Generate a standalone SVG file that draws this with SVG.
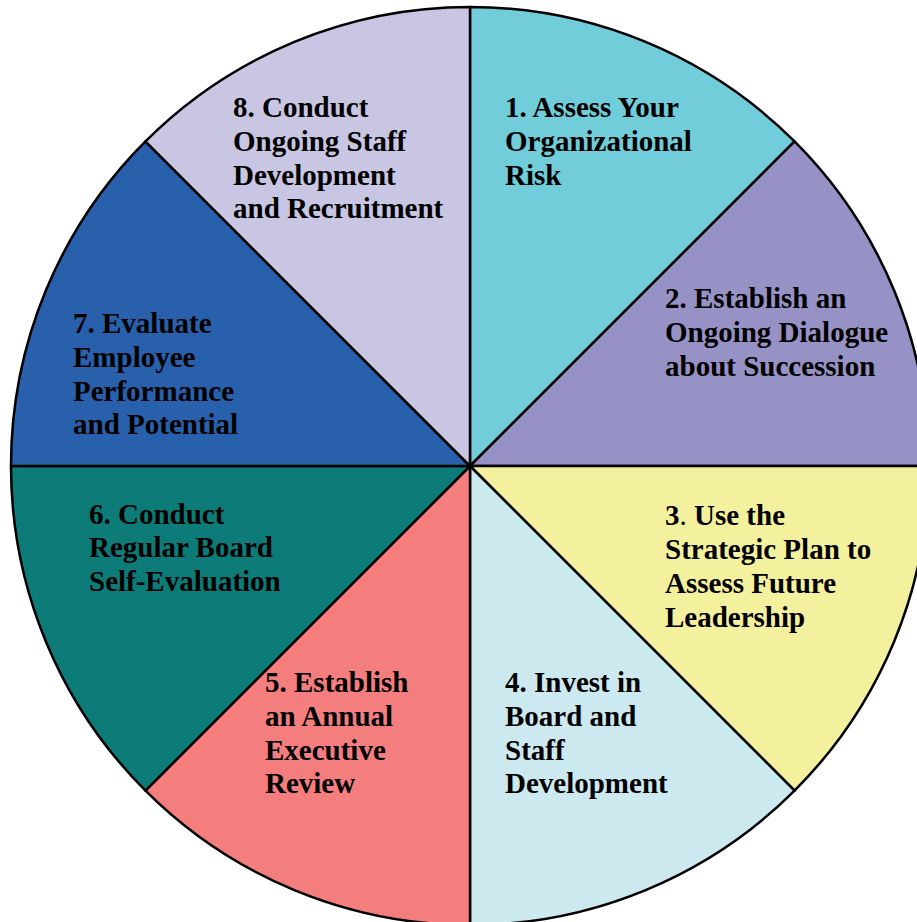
<svg xmlns="http://www.w3.org/2000/svg" width="917" height="922" viewBox="0 0 917 922">
  <style>
    .slice { stroke: #000; stroke-width: 2.5; stroke-linejoin: round; }
    .label { font-family: "Liberation Serif", "Times New Roman", serif; font-weight: bold; font-size: 29px; fill: #000; }
    .plain { font-weight: normal; }
  </style>
  <rect width="917" height="922" fill="#fff"/>
  <!-- wheel centre (470,466), radius 459; eight 45-degree sectors -->
  <g id="step1">
    <path class="slice" fill="#70CDD9" d="M470,466 L470,7 A459,459 0 0 1 794.56,141.44 Z"/>
    <text class="label" x="505">
      <tspan x="505" y="117">1. Assess Your</tspan>
      <tspan x="505" y="151">Organizational</tspan>
      <tspan x="505" y="185">Risk</tspan>
    </text>
  </g>
  <g id="step2">
    <path class="slice" fill="#9792C6" d="M470,466 L794.56,141.44 A459,459 0 0 1 929,466 Z"/>
    <text class="label">
      <tspan x="665" y="308">2. Establish an</tspan>
      <tspan x="665" y="342">Ongoing Dialogue</tspan>
      <tspan x="665" y="376">about Succession</tspan>
    </text>
  </g>
  <g id="step3">
    <path class="slice" fill="#F4F19E" d="M470,466 L929,466 A459,459 0 0 1 794.56,790.56 Z"/>
    <text class="label">
      <tspan x="665" y="525">3<tspan class="plain">.</tspan> Use the</tspan>
      <tspan x="665" y="559">Strategic Plan to</tspan>
      <tspan x="665" y="593">Assess Future</tspan>
      <tspan x="665" y="627">Leadership</tspan>
    </text>
  </g>
  <g id="step4">
    <path class="slice" fill="#CDE9F0" d="M470,466 L794.56,790.56 A459,459 0 0 1 470,925 Z"/>
    <text class="label">
      <tspan x="505" y="692">4. Invest in</tspan>
      <tspan x="505" y="726">Board and</tspan>
      <tspan x="505" y="759.5">Staff</tspan>
      <tspan x="505" y="793">Development</tspan>
    </text>
  </g>
  <g id="step5">
    <path class="slice" fill="#F47D7D" d="M470,466 L470,925 A459,459 0 0 1 145.44,790.56 Z"/>
    <text class="label">
      <tspan x="265" y="692">5. Establish</tspan>
      <tspan x="265" y="726">an Annual</tspan>
      <tspan x="265" y="759.5">Executive</tspan>
      <tspan x="265" y="793">Review</tspan>
    </text>
  </g>
  <g id="step6">
    <path class="slice" fill="#0D7B78" d="M470,466 L145.44,790.56 A459,459 0 0 1 11,466 Z"/>
    <text class="label">
      <tspan x="89" y="523.5">6. Conduct</tspan>
      <tspan x="89" y="557">Regular Board</tspan>
      <tspan x="89" y="590.5">Self-Evaluation</tspan>
    </text>
  </g>
  <g id="step7">
    <path class="slice" fill="#2860AC" d="M470,466 L11,466 A459,459 0 0 1 145.44,141.44 Z"/>
    <text class="label">
      <tspan x="73" y="333">7. Evaluate</tspan>
      <tspan x="73" y="367">Employee</tspan>
      <tspan x="73" y="400.5">Performance</tspan>
      <tspan x="73" y="434">and Potential</tspan>
    </text>
  </g>
  <g id="step8">
    <path class="slice" fill="#C9C6E3" d="M470,466 L145.44,141.44 A459,459 0 0 1 470,7 Z"/>
    <text class="label">
      <tspan x="233" y="117">8. Conduct</tspan>
      <tspan x="233" y="151">Ongoing Staff</tspan>
      <tspan x="233" y="184.5">Development</tspan>
      <tspan x="233" y="218">and Recruitment</tspan>
    </text>
  </g>
</svg>
